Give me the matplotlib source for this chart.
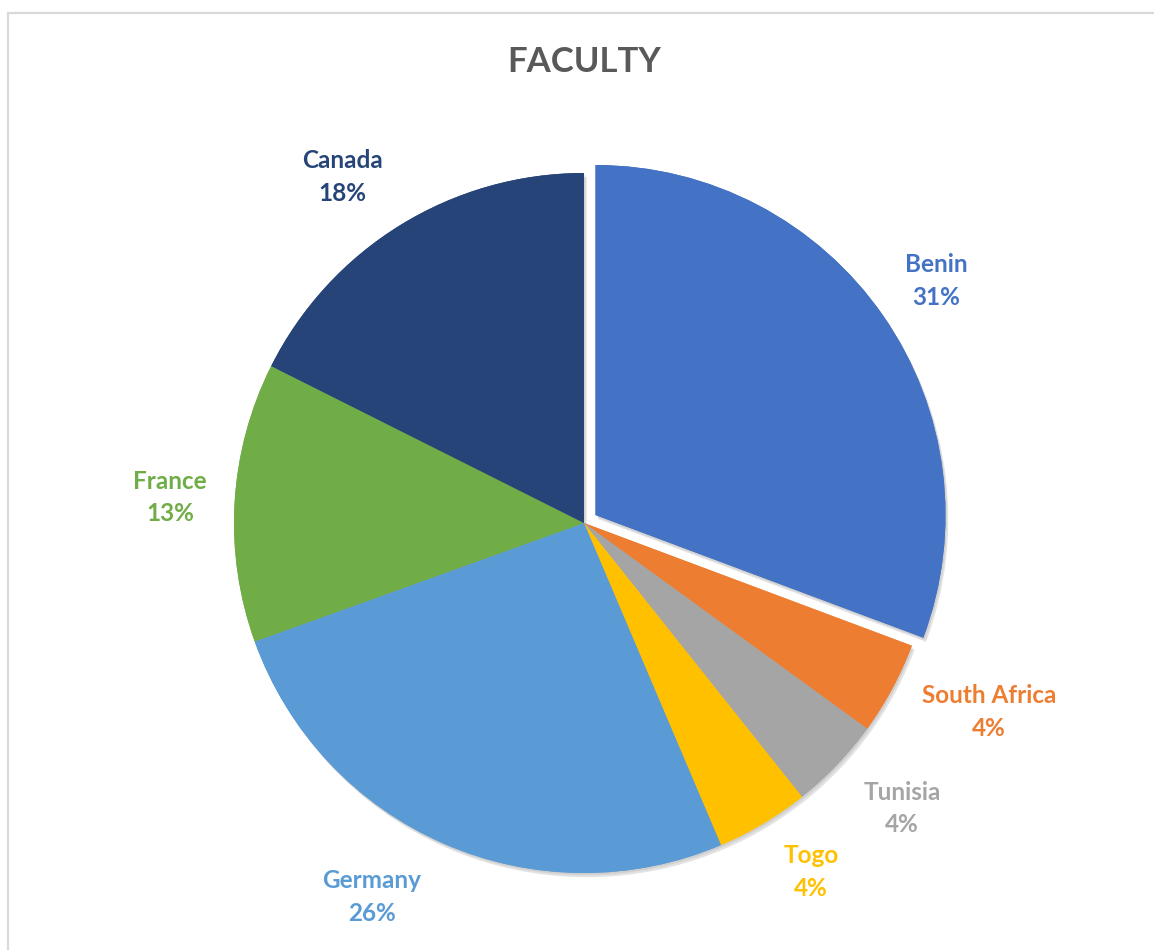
import matplotlib
matplotlib.use("Agg")
import matplotlib.pyplot as plt
import matplotlib.patheffects as pe
import numpy as np

# ---- data (shares; labels show rounded %) ----
countries = ["Benin", "South Africa", "Tunisia", "Togo", "Germany", "France", "Canada"]
shares = [30.7, 4.3, 4.3, 4.3, 25.9, 12.9, 17.6]
colors = ["#4472C4", "#ED7D31", "#A5A5A5", "#FFC000", "#5B9BD5", "#70AD47", "#264478"]
explode = [0.04, 0, 0, 0, 0, 0, 0]
title = "FACULTY"

# ---- label placement style (relative to wedge radius / mid-angle) ----
label_dist = [1.182, 1.276, 1.221, 1.19, 1.229, 1.185, 1.206]
label_dang = [-0.25, 3.25, 1.85, 2.25, -6.0, -0.1, 3.3]

W, H, DPI = 1154, 950, 100
fig = plt.figure(figsize=(W / DPI, H / DPI), dpi=DPI)
fig.patch.set_facecolor("white")

R_PX = 350.0
CX, CY = 584.0, 523.0  # pixel center (from top-left)
ax = fig.add_axes([0, 0, 1, 1])

# soft shadow layer underneath
shadow_layers = [pe.SimplePatchShadow(offset=(2, -3), shadow_rgbFace="#7f7f7f", alpha=0.22),
                 pe.SimplePatchShadow(offset=(1, -1.5), shadow_rgbFace="#7f7f7f", alpha=0.18)]
ax.pie(shares, colors=colors, explode=explode, startangle=90,
       counterclock=False, radius=1.0, center=(0, 0),
       wedgeprops=dict(linewidth=0, path_effects=shadow_layers + [pe.Normal()], zorder=1))

wedges, _ = ax.pie(shares, colors=colors, explode=explode, startangle=90,
                   counterclock=False, radius=1.0, center=(0, 0),
                   wedgeprops=dict(linewidth=0, zorder=2))

ax.set_aspect("equal", adjustable="datalim")
ax.set_xlim(-CX / R_PX, (W - CX) / R_PX)
ax.set_ylim(-(H - CY) / R_PX, CY / R_PX)
ax.axis("off")

total = float(sum(shares))
for w, name, val, col, d, da in zip(wedges, countries, shares, colors, label_dist, label_dang):
    mid = np.deg2rad((w.theta1 + w.theta2) / 2.0 + da)
    cx, cy = w.center
    x = cx + d * w.r * np.cos(mid)
    y = cy + d * w.r * np.sin(mid)
    ax.text(x, y, f"{name}\n{int(100 * val / total + 0.5):d}%", color=col,
            ha="center", va="center", fontsize=17.5, fontweight="bold",
            family=["Lato", "DejaVu Sans"], linespacing=1.5, zorder=3)

fig.text(CX / W, 1 - 62 / H, title, ha="center", va="center", fontsize=25,
         fontweight="bold", color="#595959", family=["Lato", "DejaVu Sans"])

# chart-area border (top and left visible)
bx, by = 7.5 / W, 1 - 13 / H
fig.add_artist(plt.Line2D([bx, 1.0], [by, by], transform=fig.transFigure,
                          color="#D9D9D9", linewidth=1.6))
fig.add_artist(plt.Line2D([bx, bx], [0, by], transform=fig.transFigure,
                          color="#D9D9D9", linewidth=1.6))

fig.savefig("out.png", dpi=DPI, facecolor="white")
